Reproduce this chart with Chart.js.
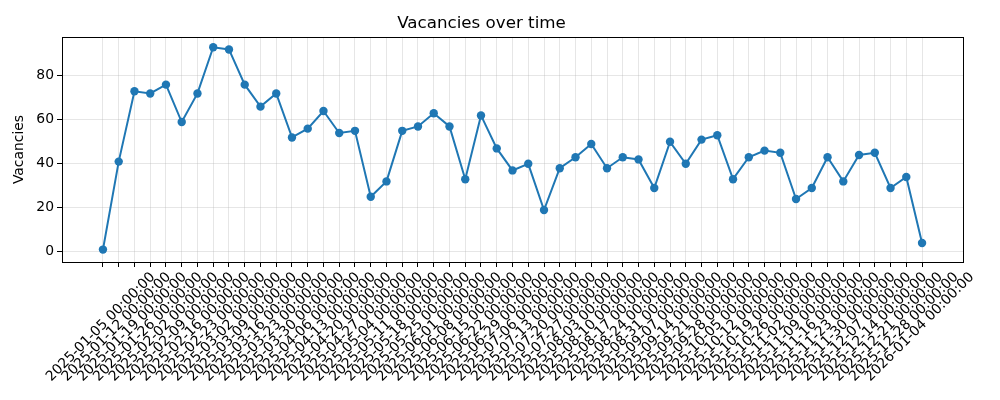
<!DOCTYPE html>
<html>
<head>
<meta charset="utf-8">
<script src="https://cdn.jsdelivr.net/npm/chart.js@4.4.1/dist/chart.umd.min.js"></script>
<style>
html,body{margin:0;padding:0;background:#fff;}
#wrap{width:1000px;height:400px;}
</style>
</head>
<body>
<div id="wrap"><canvas id="c" width="1000" height="400"></canvas></div>
<script>
const dates = [
"2025-01-05 00:00:00","2025-01-12 00:00:00","2025-01-19 00:00:00","2025-01-26 00:00:00",
"2025-02-02 00:00:00","2025-02-09 00:00:00","2025-02-16 00:00:00","2025-02-23 00:00:00",
"2025-03-02 00:00:00","2025-03-09 00:00:00","2025-03-16 00:00:00","2025-03-23 00:00:00",
"2025-03-30 00:00:00","2025-04-06 00:00:00","2025-04-13 00:00:00","2025-04-20 00:00:00",
"2025-04-27 00:00:00","2025-05-04 00:00:00","2025-05-11 00:00:00","2025-05-18 00:00:00",
"2025-05-25 00:00:00","2025-06-01 00:00:00","2025-06-08 00:00:00","2025-06-15 00:00:00",
"2025-06-22 00:00:00","2025-06-29 00:00:00","2025-07-06 00:00:00","2025-07-13 00:00:00",
"2025-07-20 00:00:00","2025-07-27 00:00:00","2025-08-03 00:00:00","2025-08-10 00:00:00",
"2025-08-17 00:00:00","2025-08-24 00:00:00","2025-08-31 00:00:00","2025-09-07 00:00:00",
"2025-09-14 00:00:00","2025-09-21 00:00:00","2025-09-28 00:00:00","2025-10-05 00:00:00",
"2025-10-12 00:00:00","2025-10-19 00:00:00","2025-10-26 00:00:00","2025-11-02 00:00:00",
"2025-11-09 00:00:00","2025-11-16 00:00:00","2025-11-23 00:00:00","2025-11-30 00:00:00",
"2025-12-07 00:00:00","2025-12-14 00:00:00","2025-12-21 00:00:00","2025-12-28 00:00:00",
"2026-01-04 00:00:00"
];
const vacancies = [
1,41,73,72,76,59,72,93,92,76,66,72,52,56,64,54,55,25,32,55,57,63,57,33,62,47,37,40,19,38,
43,49,38,43,42,29,50,40,51,53,33,43,46,45,24,29,43,32,44,45,29,34,4
];
const yTicks = [0,20,40,60,80];

const FONT = 'DejaVu Sans';
const points = vacancies.map((v,i)=>({x:i,y:v}));
const n = dates.length;
const xMargin = (n-1)*0.05;
const yMax = Math.max(...vacancies), yMin = Math.min(0, Math.min(...vacancies));
const yMargin = (yMax - yMin)*0.05;

const frame = {
  id:'frame',
  afterDraw(chart){
    const {ctx, chartArea:a} = chart;
    ctx.save();
    ctx.strokeStyle='#000';
    ctx.lineWidth=1;
    ctx.strokeRect(Math.round(a.left)+0.5, Math.round(a.top)+0.5, Math.round(a.right-a.left), Math.round(a.bottom-a.top));
    ctx.restore();
  }
};

new Chart(document.getElementById('c'), {
  type:'line',
  data:{datasets:[{
    data:points,
    borderColor:'#1f77b4',
    backgroundColor:'#1f77b4',
    borderWidth:2,
    pointRadius:4.2,
    pointHoverRadius:4.2,
    pointBorderWidth:0,
    tension:0
  }]},
  options:{
    responsive:false,
    animation:false,
    layout:{padding:{left:0,right:37,top:0,bottom:0}},
    plugins:{
      legend:{display:false},
      tooltip:{enabled:false},
      title:{display:true,text:'Vacancies over time',color:'#000',
        font:{family:FONT,size:16.7,weight:'normal',lineHeight:1.2},
        padding:{top:14,bottom:3}}
    },
    scales:{
      x:{
        type:'linear',
        min:-xMargin, max:(n-1)+xMargin,
        afterBuildTicks(s){ s.ticks = dates.map((_,i)=>({value:i})); },
        afterFit(s){ s.height = 138; s.paddingLeft = 0; s.paddingRight = 0; },
        grid:{color:'rgba(176,176,176,0.32)',lineWidth:1,tickLength:5,tickColor:'#000',drawOnChartArea:true},
        border:{display:false},
        ticks:{
          autoSkip:false,minRotation:45,maxRotation:45,
          padding:2,labelOffset:50,
          color:'#000',font:{family:FONT,size:13.9},
          callback:(v)=>dates[v]
        }
      },
      y:{
        type:'linear',
        min:yMin-yMargin, max:yMax+yMargin,
        afterBuildTicks(s){ s.ticks = yTicks.map(v=>({value:v})); },
        afterFit(s){ s.width = 62; s.paddingTop = 0; s.paddingBottom = 0; },
        grid:{color:'rgba(176,176,176,0.32)',lineWidth:1,tickLength:5,tickColor:'#000'},
        border:{display:false},
        title:{display:true,text:'Vacancies',color:'#000',font:{family:FONT,size:13.9},padding:{top:11,bottom:0}},
        ticks:{color:'#000',font:{family:FONT,size:13.9},padding:3}
      }
    }
  },
  plugins:[frame]
});
</script>
</body>
</html>
